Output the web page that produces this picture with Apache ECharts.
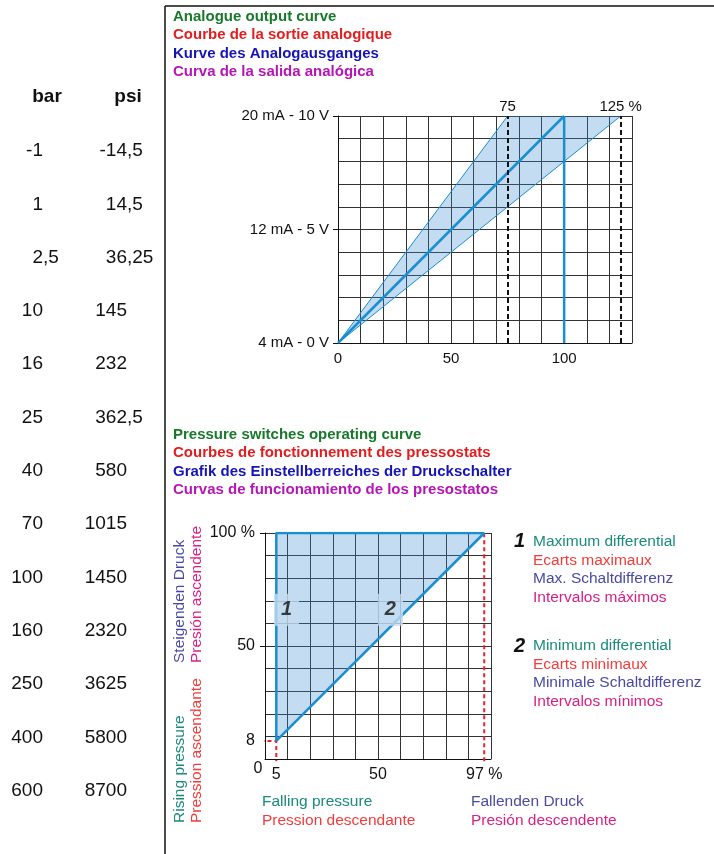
<!DOCTYPE html>
<html>
<head>
<meta charset="utf-8">
<script src="https://cdn.jsdelivr.net/npm/echarts@6/dist/echarts.min.js"></script>
<style>
  html, body { margin: 0; background: #fff; }
  #main { width: 714px; height: 854px; }
</style>
</head>
<body>
<div id="main"></div>
<script>
// conversion table
const barValues = ['-1', '1', '2,5', '10', '16', '25', '40', '70', '100', '160', '250', '400', '600']
const psiValues = ['-14,5', '14,5', '36,25', '145', '232', '362,5', '580', '1015', '1450', '2320', '3625', '5800', '8700']

// headings
const analogTitles = ['Analogue output curve', 'Courbe de la sortie analogique', 'Kurve des Analogausganges', 'Curva de la salida analógica']
const switchTitles = ['Pressure switches operating curve', 'Courbes de fonctionnement des pressostats', 'Grafik des Einstellberreiches der Druckschalter', 'Curvas de funcionamiento de los presostatos']
const titleColors = ['#18792b', '#e31d1d', '#1515b5', '#b515b5']

// analogue output chart (x = % of range, y = 0..10 V)
const outputTickLabels = { 0: '4 mA - 0 V', 5: '12 mA - 5 V', 10: '20 mA - 10 V' }
const outputTicks = [0, 5, 10]
const rangeTickLabels = [0, 50, 100]
const nominalLine = [[0, 0], [100, 10]]
const fullScaleLine = [[100, 0], [100, 10]]
const bandUpper = [[0, 0], [75, 10]]
const bandLower = [[0, 0], [125, 10]]
const bandArea = [[0, 0], [75, 10], [125, 10]]
const rangeMarks = [75, 125]

// pressure switch chart (x = falling %, y = rising %)
const switchArea = [[5, 8], [5, 100], [97, 100]]
const switchOutline = [[5, 8], [5, 100], [97, 100], [5, 8]]
const minGuide = [[-2, 8], [5, 8], [5, -1]]
const maxGuide = [[97, -1], [97, 100]]
const zoneLabels = [[9.5, 66, '1'], [55.5, 66, '2']]
const fallingTicks = [0, 5, 50, 97]
const risingTicks = [8, 50, 100]
const risingMajorTicks = [50, 100]

const legendMax = ['Maximum differential', 'Ecarts maximaux', 'Max. Schaltdifferenz', 'Intervalos máximos']
const legendMin = ['Minimum differential', 'Ecarts minimaux', 'Minimale Schaltdifferenz', 'Intervalos mínimos']
const legendColors = ['#1b8a7d', '#f23b3b', '#4a4aa5', '#d91e84']
const risingLow = ['Rising pressure', 'Pression ascendante']
const risingHigh = ['Steigenden Druck', 'Presión ascendente']
const fallingLeft = ['Falling pressure', 'Pression descendante']
const fallingRight = ['Fallenden Druck', 'Presión descendente']

const FONT = '"Liberation Sans", Arial, sans-serif'
const BLUE = '#1a8ed0'
const FILL = 'rgba(60,140,210,0.3)'

function txt(x, y, text, color, font, align, rotation) {
  return {
    type: 'text',
    x: x,
    y: y,
    rotation: rotation || 0,
    silent: true,
    style: {
      text: text,
      fill: color,
      font: font,
      align: align || 'left',
      verticalAlign: 'middle',
      textAlign: align || 'left',
      textVerticalAlign: 'middle'
    }
  }
}

function buildGraphic() {
  const g = []
  // frame
  g.push({ type: 'line', silent: true, shape: { x1: 165, y1: 6, x2: 714, y2: 6 }, style: { stroke: '#111', lineWidth: 1.5 } })
  g.push({ type: 'line', silent: true, shape: { x1: 165, y1: 6, x2: 165, y2: 854 }, style: { stroke: '#111', lineWidth: 1.5 } })

  // table
  g.push(txt(47, 97, 'bar', '#111', 'bold 19px ' + FONT, 'center'))
  g.push(txt(128, 97, 'psi', '#111', 'bold 19px ' + FONT, 'center'))
  const cell = (x, y, value) => {
    const parts = value.split(',')
    g.push(txt(x, y, parts[0], '#111', '19px ' + FONT, 'right'))
    if (parts.length > 1) g.push(txt(x, y, ',' + parts[1], '#111', '19px ' + FONT, 'left'))
  }
  barValues.forEach((v, i) => {
    const y = 151 + i * 53.3
    cell(43, y, v)
    cell(127, y, psiValues[i])
  })

  // headings
  analogTitles.forEach((t, i) => g.push(txt(173, 17 + i * 18.3, t, titleColors[i], 'bold 15px ' + FONT)))
  switchTitles.forEach((t, i) => g.push(txt(173, 435 + i * 18.3, t, titleColors[i], 'bold 15px ' + FONT)))

  // legend for zones
  g.push(txt(514, 541, '1', '#111', 'italic bold 20px ' + FONT))
  g.push(txt(514, 646, '2', '#111', 'italic bold 20px ' + FONT))
  legendMax.forEach((t, i) => g.push(txt(533, 542 + i * 18.6, t, legendColors[i], '15.5px ' + FONT)))
  legendMin.forEach((t, i) => g.push(txt(533, 646 + i * 18.6, t, legendColors[i], '15.5px ' + FONT)))

  // axis captions
  risingLow.forEach((t, i) => g.push(txt(180 + i * 17, 823, t, legendColors[i], '15.5px ' + FONT, 'left', Math.PI / 2)))
  risingHigh.forEach((t, i) => g.push(txt(180 + i * 17, 663, t, legendColors[i + 2], '15.5px ' + FONT, 'left', Math.PI / 2)))
  fallingLeft.forEach((t, i) => g.push(txt(262, 802 + i * 18.4, t, legendColors[i], '15.5px ' + FONT)))
  fallingRight.forEach((t, i) => g.push(txt(471, 802 + i * 18.4, t, legendColors[i + 2], '15.5px ' + FONT)))
  return g
}

const chart = echarts.init(document.getElementById('main'), null, { renderer: 'canvas' })

const gridLine = { show: true, lineStyle: { color: '#333', width: 1 } }
const axisLine = { show: true, lineStyle: { color: '#111', width: 1 } }

// extra y axes that only carry the few major ticks (keeps full grid on the main axes)
function tickAxis(gridIndex, max, ticks) {
  return {
    gridIndex: gridIndex, type: 'value', min: 0, max: max, position: 'left',
    axisLine: { show: false }, splitLine: { show: false }, axisLabel: { show: false },
    axisTick: { show: true, customValues: ticks, length: 5, lineStyle: { color: '#111' } }
  }
}

chart.setOption({
  animation: false,
  backgroundColor: '#fff',
  textStyle: { fontFamily: FONT },
  grid: [
    { left: 338, top: 116, width: 294, height: 227 },
    { left: 265, top: 533, width: 226, height: 226 }
  ],
  xAxis: [
    {
      gridIndex: 0, type: 'value', min: 0, max: 130, interval: 10,
      axisLine: axisLine, axisTick: { show: false }, splitLine: gridLine,
      axisLabel: { customValues: rangeTickLabels, margin: 8, fontSize: 15, color: '#111', fontFamily: FONT }
    },
    {
      gridIndex: 1, type: 'value', min: 0, max: 100, interval: 10,
      axisLine: axisLine, axisTick: { show: false }, splitLine: gridLine,
      axisLabel: {
        customValues: fallingTicks, margin: 2, fontSize: 16, color: '#111', fontFamily: FONT,
        formatter: v => v === 0 ? '{o|0}' : '{n|' + (v === 97 ? '97 %' : v) + '}',
        rich: {
          o: { fontSize: 16, color: '#111', fontFamily: FONT, padding: [0, 14, 0, 0] },
          n: { fontSize: 16, color: '#111', fontFamily: FONT, padding: [6, 0, 0, 0] }
        }
      }
    }
  ],
  yAxis: [
    {
      gridIndex: 0, type: 'value', min: 0, max: 10, interval: 1, position: 'left',
      axisLine: axisLine, splitLine: gridLine, axisTick: { show: false },
      axisLabel: {
        customValues: outputTicks, margin: 9, fontSize: 15, color: '#111', fontFamily: FONT,
        formatter: v => outputTickLabels[v]
      }
    },
    {
      gridIndex: 1, type: 'value', min: 0, max: 100, interval: 10, position: 'left',
      axisLine: axisLine, splitLine: gridLine, axisTick: { show: false },
      axisLabel: {
        customValues: risingTicks, margin: 10, fontSize: 16, color: '#111', fontFamily: FONT,
        formatter: v => v === 100 ? '100 %' : String(v)
      }
    },
    tickAxis(0, 10, outputTicks),
    tickAxis(1, 100, risingMajorTicks)
  ],
  series: [
    {
      type: 'custom', xAxisIndex: 0, yAxisIndex: 0, z: 1, silent: true,
      data: [0],
      renderItem: (params, api) => ({
        type: 'polygon',
        shape: { points: bandArea.map(p => api.coord(p)) },
        style: { fill: FILL }
      })
    },
    { type: 'line', xAxisIndex: 0, yAxisIndex: 0, data: bandUpper, symbol: 'none', lineStyle: { color: BLUE, width: 1 } },
    { type: 'line', xAxisIndex: 0, yAxisIndex: 0, data: bandLower, symbol: 'none', lineStyle: { color: BLUE, width: 1 } },
    { type: 'line', xAxisIndex: 0, yAxisIndex: 0, data: nominalLine, symbol: 'none', lineStyle: { color: BLUE, width: 2.5 } },
    {
      type: 'line', xAxisIndex: 0, yAxisIndex: 0, data: fullScaleLine, symbol: 'none', lineStyle: { color: BLUE, width: 2.5 },
      markLine: {
        silent: true, symbol: 'none', animation: false,
        lineStyle: { color: '#111', width: 2, type: [5, 3] },
        label: {
          show: true, position: 'end', distance: 2, fontSize: 15, color: '#111', fontFamily: FONT,
          formatter: p => p.value === 125 ? '125 %' : String(p.value)
        },
        data: rangeMarks.map(v => ({ xAxis: v }))
      }
    },
    {
      type: 'custom', xAxisIndex: 1, yAxisIndex: 1, z: 1, silent: true,
      data: [0],
      renderItem: (params, api) => ({
        type: 'polygon',
        shape: { points: switchArea.map(p => api.coord(p)) },
        style: { fill: FILL }
      })
    },
    { type: 'line', xAxisIndex: 1, yAxisIndex: 1, data: minGuide, symbol: 'none', clip: false, lineStyle: { color: '#e8232a', width: 2, type: [4, 3] } },
    { type: 'line', xAxisIndex: 1, yAxisIndex: 1, data: maxGuide, symbol: 'none', clip: false, lineStyle: { color: '#e8232a', width: 2, type: [4, 3] } },
    { type: 'line', xAxisIndex: 1, yAxisIndex: 1, data: switchOutline, symbol: 'none', z: 3, lineStyle: { color: BLUE, width: 2.5 } },
    {
      type: 'scatter', xAxisIndex: 1, yAxisIndex: 1, data: zoneLabels, symbolSize: 1, z: 4,
      itemStyle: { color: 'transparent' },
      label: {
        show: true, position: 'inside', formatter: p => p.value[2],
        fontSize: 20, fontWeight: 'bold', fontStyle: 'italic', color: '#111', fontFamily: FONT,
        backgroundColor: '#c4dcf1', padding: [6, 7]
      }
    }
  ],
  graphic: buildGraphic()
})
</script>
</body>
</html>
